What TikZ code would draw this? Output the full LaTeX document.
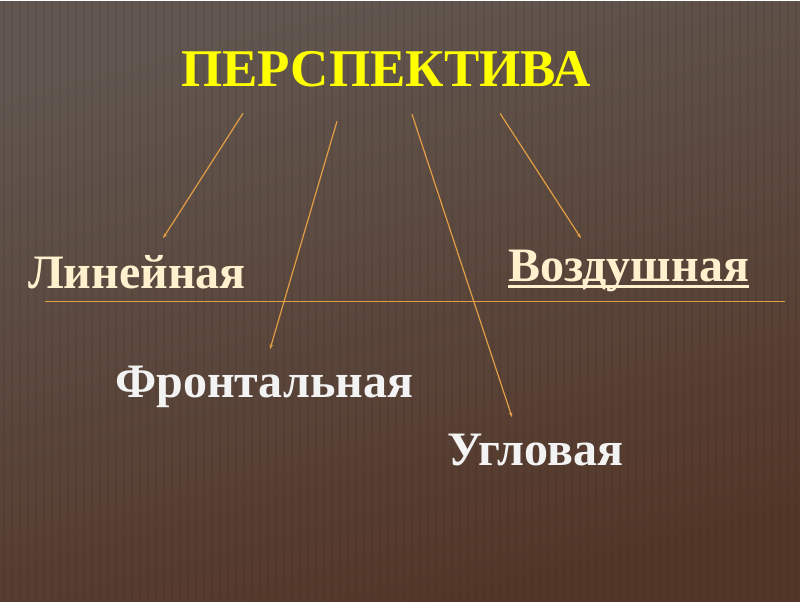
\documentclass[tikz,border=0pt]{standalone}
\usepackage{fontspec}
\setmainfont{Liberation Serif}
\usetikzlibrary{arrows.meta}
\definecolor{bgtop}{RGB}{97,87,80}
\definecolor{bgbot}{RGB}{84,54,40}
\definecolor{raycol}{RGB}{226,158,68}
\definecolor{cream}{RGB}{255,241,206}
\definecolor{pale}{RGB}{243,243,243}
\definecolor{titlecol}{RGB}{255,255,0}

\begin{document}
\begin{tikzpicture}[x=1pt,y=-1pt,
    word/.style={font=\fontsize{48}{56}\selectfont\bfseries, inner sep=0pt, anchor=base west},
    ray/.style={raycol, line width=1.2pt, -{Stealth[length=5pt,width=3.5pt]}}]
  % background
  \shade[top color=bgtop, bottom color=bgbot, shading angle=15] (0,0) rectangle (800,600);
  \foreach \i in {4,12,...,800}
    \draw[black, opacity=0.05, line width=2.5pt] (\i,0) -- (\i,600);
  \useasboundingbox (0,0) rectangle (800,600);

  % title and words
  \node[word, font=\fontsize{53}{60}\selectfont\bfseries, anchor=base, text=titlecol] (title) at (386,85) {ПЕРСПЕКТИВА};
  \node[word, text=cream] (lin) at (28,287) {Линейная};
  \node[word, text=cream] (vozd) at (508,280) {Воздушная};
  \node[word, text=pale] (front) at (115,396) {Фронтальная};
  \node[word, text=pale] (ugl) at (447,464) {Угловая};
  \draw[cream, line width=3pt] ([yshift=-5pt]vozd.base west) -- ([yshift=-5pt]vozd.base east);

  % rays
  \coordinate (s1) at (243,112); \coordinate (e1) at (163,237);
  \coordinate (s2) at (337,120); \coordinate (e2) at (270,348);
  \coordinate (s3) at (412,113); \coordinate (e3) at (512,416);
  \coordinate (s4) at (500,112); \coordinate (e4) at (581,237);
  \draw[ray] (s1) -- (e1);
  \draw[ray] (s2) -- (e2);
  \draw[ray] (s3) -- (e3);
  \draw[ray] (s4) -- (e4);
  \coordinate (h1) at (45,300); \coordinate (h2) at (785,300);
  \draw[raycol, line width=1.2pt] (h1) -- (h2);
\end{tikzpicture}
\end{document}
